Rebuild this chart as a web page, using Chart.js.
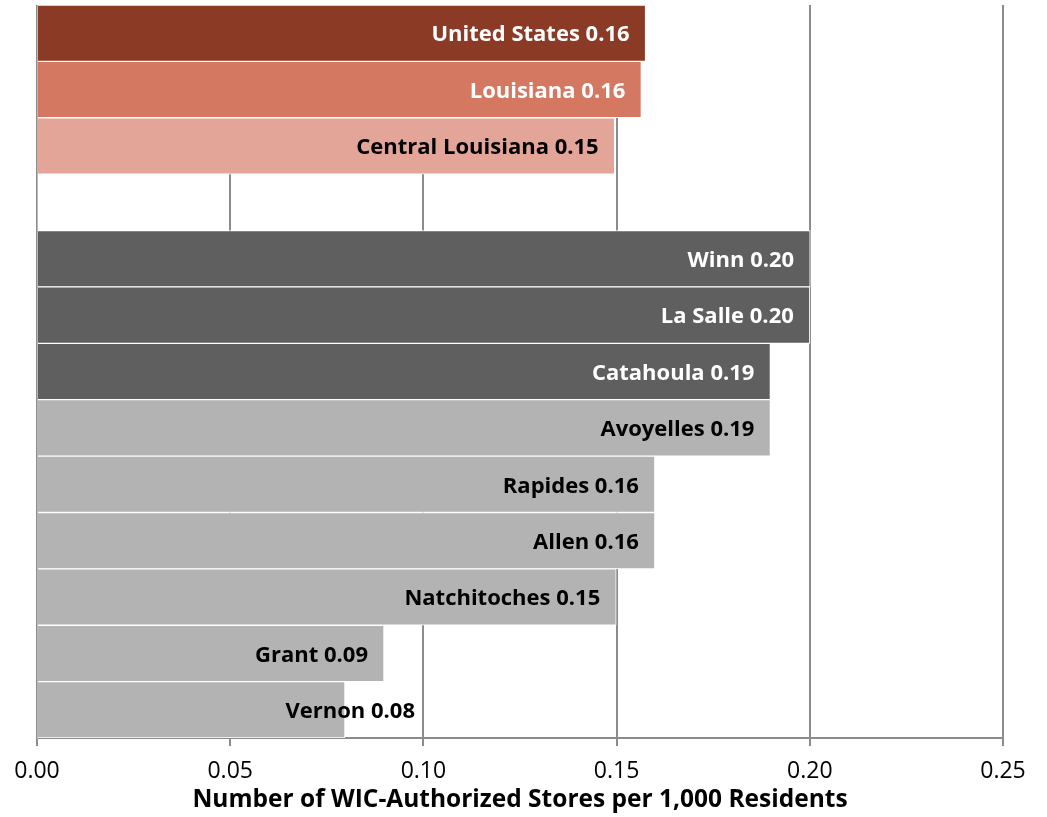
<!DOCTYPE html>
<html>
<head>
<meta charset="utf-8">
<script src="https://cdn.jsdelivr.net/npm/chart.js@4"></script>
<style>
  html, body { margin: 0; padding: 0; background: #fff; }
  #wrap { width: 1047px; height: 817px; }
</style>
</head>
<body>
<div id="wrap"><canvas id="myChart" width="1047" height="817"></canvas></div>
<script>
// Data
const areas = ["United States", "Louisiana", "Central Louisiana", "",
  "Winn", "La Salle", "Catahoula", "Avoyelles", "Rapides", "Allen",
  "Natchitoches", "Grant", "Vernon"];
const storesPer1000 = [0.1575, 0.1564, 0.1495, null,
  0.2001, 0.2000, 0.1898, 0.1898, 0.1599, 0.1599, 0.1499, 0.0898, 0.0797];
const xTicks = [0, 0.05, 0.10, 0.15, 0.20, 0.25];

// colours per bar
const barColors = ['#8b3a26', '#d47862', '#e3a597', '#ffffff',
  '#5f5f5f', '#5f5f5f', '#5f5f5f', '#b3b3b3', '#b3b3b3', '#b3b3b3',
  '#b3b3b3', '#b3b3b3', '#b3b3b3'];
const labelColors = ['#ffffff', '#ffffff', '#000000', '#000000',
  '#ffffff', '#ffffff', '#ffffff', '#000000', '#000000', '#000000',
  '#000000', '#000000', '#000000'];

const labelFont = 'bold 22px "Open Sans"';

// labels inside the end of each bar
const barLabels = {
  id: 'bar_labels',
  afterDatasetsDraw: (chart) => {
    const ctx = chart.ctx;
    const meta = chart.getDatasetMeta(0);
    ctx.save();
    ctx.font = labelFont;
    ctx.textAlign = 'right';
    ctx.textBaseline = 'middle';
    meta.data.forEach((bar, i) => {
      const v = storesPer1000[i];
      if (v === null) return;
      let x = bar.x - 16;
      if (areas[i] === 'Vernon') x += 86; // sits past the bar end in the original
      ctx.fillStyle = labelColors[i];
      ctx.fillText(areas[i] + ' ' + v.toFixed(2), x, bar.y + 2);
    });
    ctx.restore();
  }
};

var ctx = document.getElementById('myChart').getContext('2d');
var chart = new Chart(ctx, {
  type: 'bar',
  data: {
    labels: areas,
    datasets: [{
      data: storesPer1000,
      backgroundColor: barColors,
      borderColor: '#ffffff',
      borderWidth: 1,
      categoryPercentage: 1.0,
      barPercentage: 1.0,
    }]
  },
  plugins: [barLabels],
  options: {
    indexAxis: 'y',
    responsive: false,
    animation: false,
    layout: { padding: { left: 29, right: 44, top: 5, bottom: 2 } },
    plugins: {
      legend: { display: false },
      tooltip: { enabled: false }
    },
    scales: {
      x: {
        min: 0,
        max: 0.25,
        afterBuildTicks: (axis) => { axis.ticks = xTicks.map(v => ({ value: v })); },
        ticks: {
          callback: (v) => Number(v).toFixed(2),
          color: '#000',
          font: { family: 'Open Sans', size: 23 },
          padding: 12,
          maxRotation: 0,
        },
        grid: {
          color: '#8c8c8c',
          lineWidth: 2,
          tickLength: 8,
        },
        border: { color: '#8c8c8c', width: 2 },
        title: {
          display: true,
          text: 'Number of WIC-Authorized Stores per 1,000 Residents',
          color: '#000',
          font: { family: 'Open Sans', size: 24.5, weight: 'bold' },
          padding: { top: -12, bottom: 0 }
        }
      },
      y: {
        ticks: { display: false },
        grid: { display: false },
        border: { color: '#b8b8b8', width: 1 }
      }
    }
  }
});
</script>
</body>
</html>
